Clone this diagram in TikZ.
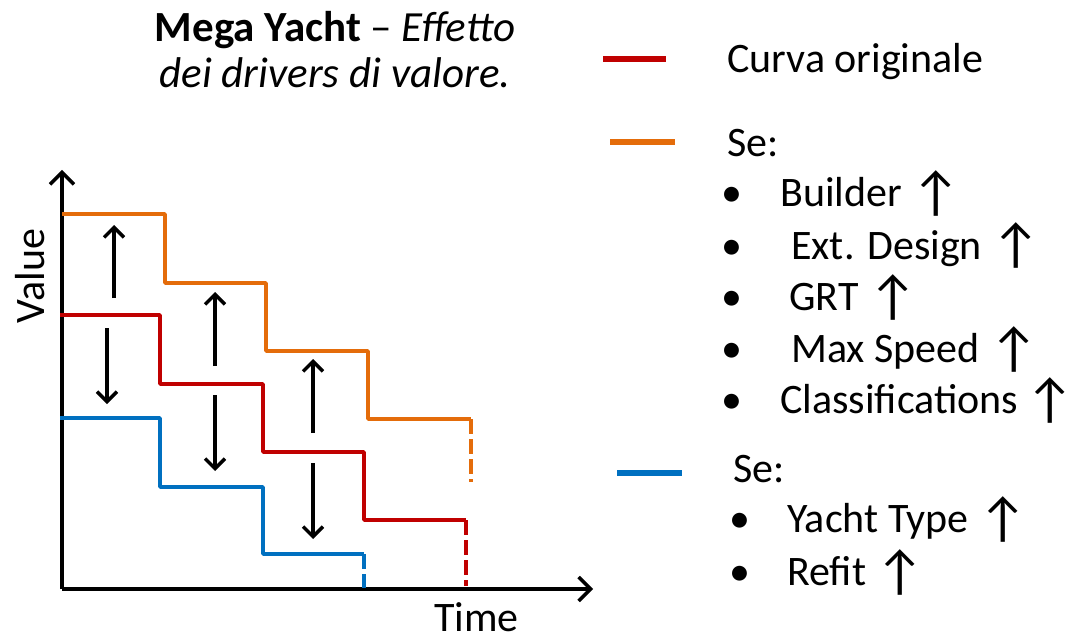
\documentclass[tikz,border=0pt]{standalone}
\usepackage{fontspec}
\setmainfont{Carlito}
\usetikzlibrary{arrows.meta}
\definecolor{curvred}{HTML}{C00000}
\definecolor{curvorange}{HTML}{E46C0A}
\definecolor{curvblue}{HTML}{0070C0}
% upward arrow used after each driver name
\newcommand\uparr{\raisebox{-4pt}{\scalebox{1.3}{↑}}}

\begin{document}
\begin{tikzpicture}[x=1pt,y=-1pt,
  big/.style={font=\fontsize{42}{50}\selectfont, inner sep=0pt},
  axisline/.style={line width=3.5pt, -{Straight Barb[length=12pt,width=24pt]}},
  driver/.style={line width=3.5pt, -{Straight Barb[length=10pt,width=20pt]}},
  curve/.style={line width=3.5pt, line join=round},
  tail/.style={line width=3.5pt, dash pattern=on 15pt off 5pt},
  key/.style={line width=6pt}]
\useasboundingbox (0,0) rectangle (1071,639);

% axes
\coordinate (O) at (62,589);
\coordinate (ytop) at (62,170);
\coordinate (xend) at (593,589);
\draw[axisline] (O) -- (ytop);
\draw[axisline] (O) -- (xend);
\node[big, rotate=90] (value) at (30,276) {Value};
\node[big, anchor=base west] (time) at (434,631) {Time};

% step curves
\draw[curve, curvorange] (62,214) -- (165,214) -- (165,283) -- (266,283) -- (266,351)
  -- (368,351) -- (368,419) -- (471,419);
\draw[tail, curvorange] (471,419) -- (471,482);
\draw[curve, curvred] (60,315) -- (160,315) -- (160,384) -- (263,384) -- (263,452)
  -- (364,452) -- (364,520) -- (466,520);
\draw[tail, curvred] (466,520) -- (466,586);
\draw[curve, curvblue] (60,418) -- (160,418) -- (160,487) -- (263,487) -- (263,554)
  -- (364,554);
\draw[tail, curvblue] (364,554) -- (364,588);

% value drivers
\coordinate (u1a) at (114,298); \coordinate (u1b) at (114,225);
\coordinate (d1a) at (107,328); \coordinate (d1b) at (107,404);
\coordinate (u2a) at (215,366); \coordinate (u2b) at (215,292);
\coordinate (d2a) at (215,395); \coordinate (d2b) at (215,471);
\coordinate (u3a) at (313,433); \coordinate (u3b) at (313,359);
\coordinate (d3a) at (313,463); \coordinate (d3b) at (313,539);
\draw[driver] (u1a) -- (u1b);
\draw[driver] (d1a) -- (d1b);
\draw[driver] (u2a) -- (u2b);
\draw[driver] (d2a) -- (d2b);
\draw[driver] (u3a) -- (u3b);
\draw[driver] (d3a) -- (d3b);

% title
\node[big, font=\fontsize{43}{50}\selectfont, anchor=base] (title1) at (335,42)
  {\textbf{Mega Yacht} – \textit{Effetto}};
\node[big, font=\fontsize{43}{50}\selectfont, anchor=base] (title2) at (335,88)
  {\textit{dei drivers di valore.}};

% legend
\draw[key, curvred] (603,59) coordinate (kr1) -- (666,59) coordinate (kr2);
\draw[key, curvorange] (610,142) coordinate (ko1) -- (675,142) coordinate (ko2);
\draw[key, curvblue] (617,473) coordinate (kb1) -- (682,473) coordinate (kb2);

\node[big, anchor=base west] (orig) at (727,73) {Curva originale};

\node[big, anchor=base west] (se1) at (727,157) {Se:};
\node[big, anchor=base] (b1) at (732,207) {•};
\node[big, anchor=base] (b2) at (732,259) {•};
\node[big, anchor=base] (b3) at (732,310) {•};
\node[big, anchor=base] (b4) at (732,362) {•};
\node[big, anchor=base] (b5) at (732,413) {•};
\node[big, anchor=base west] (t1) at (780,207) {Builder \uparr};
\node[big, anchor=base west] (t2) at (791,259) {Ext. Design \uparr};
\node[big, anchor=base west] (t3) at (789,310) {GRT \uparr};
\node[big, anchor=base west] (t4) at (791,362) {Max Speed \uparr};
\node[big, anchor=base west] (t5) at (780,413) {Classifications\,\uparr};

\node[big, anchor=base west] (se2) at (733,482) {Se:};
\node[big, anchor=base] (b6) at (740,532) {•};
\node[big, anchor=base] (b7) at (740,585) {•};
\node[big, anchor=base west] (t6) at (787,532) {Yacht Type \uparr};
\node[big, anchor=base west] (t7) at (787,585) {Refit \uparr};
\end{tikzpicture}
\end{document}
